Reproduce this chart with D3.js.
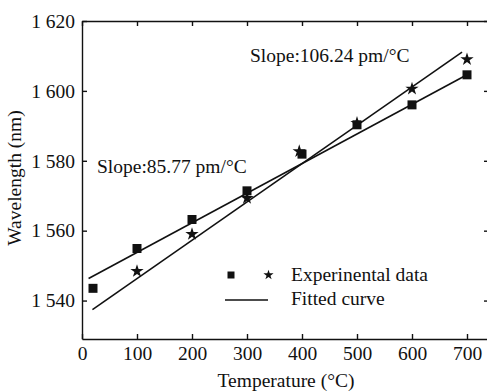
<!DOCTYPE html>
<html>
<head>
<meta charset="utf-8">
<script src="https://cdn.jsdelivr.net/npm/d3@7"></script>
<style>
  body { margin: 0; background: #fff; }
  svg { display: block; font-family: "Liberation Serif", "Times New Roman", serif; }
</style>
</head>
<body>
<div id="chart"></div>
<script>
// Data
const squareTemps = [20, 100, 200, 300, 400, 500, 600, 700]
const squareVals = [1543.5, 1554.9, 1563.2, 1571.4, 1581.9, 1590.3, 1596.0, 1604.6]
const starTemps = [100, 200, 300, 395, 500, 600, 700]
const starVals = [1548.4, 1559.0, 1569.3, 1582.7, 1590.8, 1600.6, 1609.0]
// fitted lines (end points)
const fitSquareT = [12, 700]
const fitSquareV = [1546.3, 1604.6]
const fitStarT = [19, 691]
const fitStarV = [1537.4, 1611.1]
const xTicks = [0, 100, 200, 300, 400, 500, 600, 700]
const yTicks = [1540, 1560, 1580, 1600, 1620]

const WIDTH = 487
const HEIGHT = 391

var svg = d3.select('#chart').append('svg')
    .attr('width', WIDTH)
    .attr('height', HEIGHT)

var x = d3.scaleLinear().domain([0, 740]).range([82, 489])
var y = d3.scaleLinear().domain([1529, 1620]).range([339, 21])

const fmt = d3.formatLocale({decimal: '.', thousands: ' ', grouping: [3], currency: ['', '']}).format(',d')

// Frame axes, ticks pointing inward
var axes = svg.append('g').classed('axes', true)
axes.append('g').attr('transform', 'translate(0,' + y.range()[0] + ')')
    .call(d3.axisBottom(x).tickValues(xTicks).tickSizeInner(-5).tickSizeOuter(0).tickPadding(7))
axes.append('g').attr('transform', 'translate(' + x.range()[0] + ',0)')
    .call(d3.axisLeft(y).tickValues(yTicks).tickFormat(fmt).tickSizeInner(-5).tickSizeOuter(0).tickPadding(7))
axes.append('g').attr('transform', 'translate(0,' + y.range()[1] + ')')
    .call(d3.axisTop(x).tickValues(xTicks).tickSizeInner(-5).tickSizeOuter(0).tickFormat(''))
axes.append('g').attr('transform', 'translate(' + x.range()[1] + ',0)')
    .call(d3.axisRight(y).tickValues(yTicks).tickSizeInner(-5).tickSizeOuter(0).tickFormat(''))

axes.selectAll('g').attr('font-family', null).attr('font-size', 19.5)
axes.selectAll('.domain, .tick line').attr('stroke', '#111').attr('stroke-width', 1.4)
axes.selectAll('.tick text').attr('fill', '#111')

// Fitted lines
var line = d3.line().x((d) => x(d[0])).y((d) => y(d[1]))
svg.append('path').datum(d3.zip(fitSquareT, fitSquareV))
    .attr('d', line).attr('fill', 'none').attr('stroke', '#111').attr('stroke-width', 1.6)
svg.append('path').datum(d3.zip(fitStarT, fitStarV))
    .attr('d', line).attr('fill', 'none').attr('stroke', '#111').attr('stroke-width', 1.6)

// Markers
var square = d3.symbol().type(d3.symbolSquare).size(81)
var star = d3.symbol().type(d3.symbolStar).size(55)
svg.append('g').selectAll('path').data(d3.zip(squareTemps, squareVals)).enter().append('path')
    .attr('d', square)
    .attr('transform', (d) => 'translate(' + x(d[0]) + ',' + y(d[1]) + ')')
    .attr('fill', '#111')
svg.append('g').selectAll('path').data(d3.zip(starTemps, starVals)).enter().append('path')
    .attr('d', star)
    .attr('transform', (d) => 'translate(' + x(d[0]) + ',' + y(d[1]) + ')')
    .attr('fill', '#111')

// Annotations
svg.append('text').attr('x', 250).attr('y', 62).attr('font-size', 19.5).attr('fill', '#111')
    .text('Slope:106.24 pm/°C')
svg.append('text').attr('x', 97).attr('y', 173).attr('font-size', 19.5).attr('fill', '#111')
    .text('Slope:85.77 pm/°C')

// Legend
var legend = svg.append('g')
legend.append('path').attr('d', d3.symbol().type(d3.symbolSquare).size(49))
    .attr('transform', 'translate(231,275)').attr('fill', '#111')
legend.append('path').attr('d', d3.symbol().type(d3.symbolStar).size(32))
    .attr('transform', 'translate(268.5,275)').attr('fill', '#111')
legend.append('text').attr('x', 291).attr('y', 281).attr('font-size', 19.5).attr('fill', '#111')
    .text('Experinental data')
legend.append('line').attr('x1', 225).attr('x2', 268).attr('y1', 300).attr('y2', 300)
    .attr('stroke', '#111').attr('stroke-width', 1.6)
legend.append('text').attr('x', 291).attr('y', 305).attr('font-size', 19.5).attr('fill', '#111')
    .text('Fitted curve')

// Axis titles
svg.append('text').attr('x', 286).attr('y', 387).attr('text-anchor', 'middle')
    .attr('font-size', 19.5).attr('fill', '#111').text('Temperature (°C)')
svg.append('text').attr('transform', 'translate(21,178) rotate(-90)').attr('text-anchor', 'middle')
    .attr('font-size', 19.5).attr('fill', '#111').text('Wavelength (nm)')
</script>
</body>
</html>
